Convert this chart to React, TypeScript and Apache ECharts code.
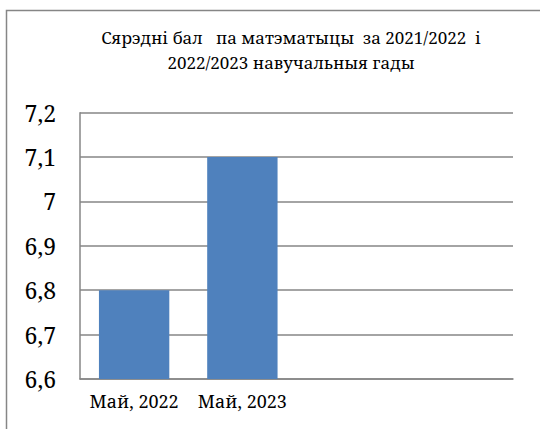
import React, { useEffect, useRef } from "react";
import * as echarts from "echarts";

const titleText = "Сярэдні бал   па матэматыцы  за 2021/2022  і\n2022/2023 навучальныя гады";
const categories = ["Май, 2022", "Май, 2023", "", ""];
const values = [6.8, 7.1, null, null];
const yMin = 6.6;
const yMax = 7.2;
const yStep = 0.1;

export default function App() {
  const ref = useRef<HTMLDivElement>(null);
  useEffect(() => {
    if (!ref.current) return;
    const chart = echarts.init(ref.current, null, { renderer: "svg" });
    const font = "Noto Serif";
    chart.setOption({
      animation: false,
      backgroundColor: "#ffffff",
      textStyle: { fontFamily: font },
      graphic: [
        {
          type: "rect",
          shape: { x: 6.5, y: 10.5, width: 600, height: 600 },
          style: { fill: "none", stroke: "#868686", lineWidth: 1.5 },
          silent: true,
        },
        {
          type: "text",
          x: 291,
          y: 25,
          style: {
            text: titleText,
            fontFamily: font,
            fontSize: 17,
            lineHeight: 25,
            fill: "#000",
            align: "center",
            verticalAlign: "top",
          },
        },
      ],
      grid: { left: 80, right: 27, top: 112.7, bottom: 50, containLabel: false },
      xAxis: {
        type: "category",
        data: categories,
        axisLine: { show: true, lineStyle: { color: "#868686", width: 1.5 } },
        axisTick: { show: false },
        axisLabel: { interval: 0, fontSize: 18, color: "#000", margin: 13, fontFamily: font },
      },
      yAxis: {
        type: "value",
        min: yMin,
        max: yMax,
        interval: yStep,
        axisLine: { show: true, lineStyle: { color: "#868686", width: 1.5 } },
        axisTick: { show: false },
        splitLine: { show: true, lineStyle: { color: "#868686", width: 1.5 } },
        axisLabel: {
          fontSize: 23,
          color: "#000",
          margin: 24,
          fontFamily: font,
          formatter: (v: number) => String(+v.toFixed(1)).replace(".", ","),
        },
      },
      series: [
        {
          type: "bar",
          data: values,
          barCategoryGap: "35%",
          itemStyle: { color: "#4f81bd" },
        },
      ],
    });
    return () => chart.dispose();
  }, []);
  return (
    <div
      ref={ref}
      style={{ position: "fixed", left: 0, top: 0, width: 540, height: 429 }}
    />
  );
}
